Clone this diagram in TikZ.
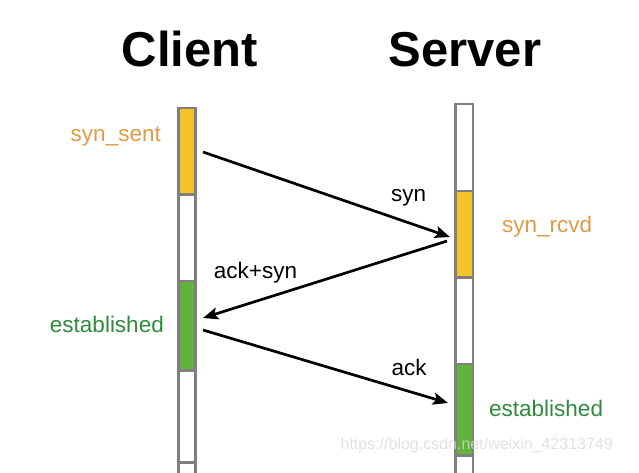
\documentclass[tikz,border=0pt]{standalone}
\usepackage{fontspec}
\setmainfont{Liberation Sans}
\usetikzlibrary{arrows.meta}
\definecolor{barline}{HTML}{7F7F7F}
\definecolor{cyellow}{HTML}{F2C42A}
\definecolor{cgreen}{HTML}{62B33E}
\definecolor{torange}{HTML}{E09A45}
\definecolor{tgreen}{HTML}{2F8B3C}
\begin{document}
\begin{tikzpicture}[x=1pt,y=-1pt,
  cell/.style={draw=barline,line width=2.6pt},
  msg/.style={line width=2.7pt,-{Stealth[length=15pt,width=12pt,inset=3pt]}},
  title/.style={font=\fontsize{49}{51}\selectfont\bfseries},
  lbl/.style={font=\fontsize{22.5}{24}\selectfont,inner sep=0pt},
  state/.style={lbl},
]
\useasboundingbox (0,0) rectangle (639,472);
\begin{scope}
\clip (0,0) rectangle (639,472);
% client bar
\draw[cell,fill=cyellow] (178.5,108) rectangle (195.5,194.5);
\draw[cell,fill=white] (178.5,194.5) rectangle (195.5,281);
\draw[cell,fill=cgreen] (178.5,281) rectangle (195.5,370.5);
\draw[cell,fill=white] (178.5,370.5) rectangle (195.5,462.5);
\draw[cell,fill=white] (178.5,462.5) rectangle (195.5,490);
% server bar
\draw[cell,fill=white] (455.5,104) rectangle (473,191);
\draw[cell,fill=cyellow] (455.5,191) rectangle (473,277.5);
\draw[cell,fill=white] (455.5,277.5) rectangle (473,364);
\draw[cell,fill=cgreen] (455.5,364) rectangle (473,455.5);
\draw[cell,fill=white] (455.5,455.5) rectangle (473,490);
\end{scope}
% titles
\node[title,anchor=base] (client) at (190,66.5) {Client};
\node[title,anchor=base] (server) at (465,66.5) {Server};
% states
\node[state,text=torange,anchor=base east] (synsent) at (161,141) {syn\_sent};
\node[state,text=torange,anchor=base west] (synrcvd) at (502,232) {syn\_rcvd};
\node[state,text=tgreen,anchor=base east] (estc) at (164,332) {established};
\node[state,text=tgreen,anchor=base west] (ests) at (489,416) {established};
% arrow endpoints
\coordinate (c1) at (203,152);
\coordinate (s1) at (450,237);
\coordinate (s2) at (447,241);
\coordinate (c2) at (203,318);
\coordinate (c3) at (203,330);
\coordinate (s3) at (448,403);
\draw[msg] (c1) -- (s1);
\draw[msg] (s2) -- (c2);
\draw[msg] (c3) -- (s3);
% message labels
\node[lbl,anchor=base] (lsyn) at (408.5,201) {syn};
\node[lbl,anchor=base] (lacksyn) at (255.5,278) {ack+syn};
\node[lbl,anchor=base] (lack) at (409,375) {ack};
% watermark
\node[lbl,font=\fontsize{16}{18}\selectfont,text=black!15,opacity=0.8,anchor=base east] (wm) at (613,449) {https://blog.csdn.net/weixin\_42313749};
\end{tikzpicture}
\end{document}
